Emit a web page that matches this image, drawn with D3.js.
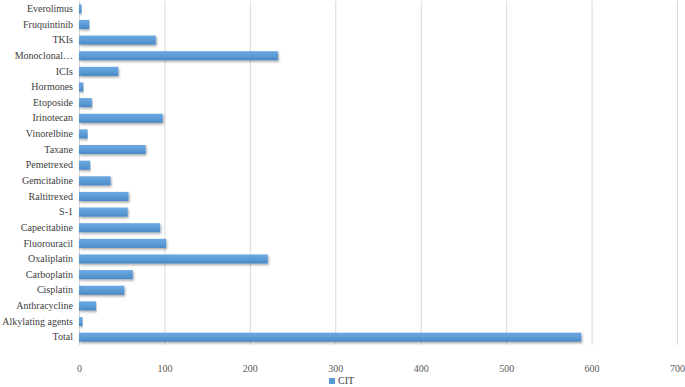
<!DOCTYPE html>
<html>
<head>
<meta charset="utf-8">
<script src="https://d3js.org/d3.v7.min.js"></script>
<style>
  body { margin: 0; background: #fff; }
  svg text { font-family: "Liberation Serif", "Times New Roman", "DejaVu Serif", serif; }
</style>
</head>
<body>
<div id="chart"></div>
<script>
// categories, top to bottom as drawn
var categories = ["Everolimus", "Fruquintinib", "TKIs", "Monoclonal…", "ICIs", "Hormones",
  "Etoposide", "Irinotecan", "Vinorelbine", "Taxane", "Pemetrexed", "Gemcitabine",
  "Raltitrexed", "S-1", "Capecitabine", "Fluorouracil", "Oxaliplatin", "Carboplatin",
  "Cisplatin", "Anthracycline", "Alkylating agents", "Total"];
var citValues = [3, 12, 90, 233, 46, 5, 15, 98, 10, 78, 13, 37, 58, 57, 95, 102, 221, 63, 53, 20, 4, 588];
var xTicks = [0, 100, 200, 300, 400, 500, 600, 700];
var seriesName = "CIT";

var serif = "'Liberation Serif', 'Times New Roman', 'DejaVu Serif', serif";
var fontSize = 10;

var margin = {top: 1, right: 8, bottom: 42, left: 79},
    width = 685 - margin.left - margin.right,
    height = 387 - margin.top - margin.bottom;

var data = categories.map(function(c, i) { return {name: c, value: citValues[i]}; });

var svg = d3.select("#chart")
  .append("svg")
    .attr("width", 685)
    .attr("height", 387);

var defs = svg.append("defs");
var grad = defs.append("linearGradient")
  .attr("id", "barGrad")
  .attr("x1", 0).attr("y1", 0).attr("x2", 0).attr("y2", 1);
grad.append("stop").attr("offset", "0%").attr("stop-color", "#6aa8e2");
grad.append("stop").attr("offset", "55%").attr("stop-color", "#5b9bd5");
grad.append("stop").attr("offset", "100%").attr("stop-color", "#4a88c4");

var shadow = defs.append("filter")
  .attr("id", "shadow")
  .attr("x", "-5%").attr("y", "-40%").attr("width", "110%").attr("height", "200%");
shadow.append("feDropShadow")
  .attr("dx", 1).attr("dy", 1.5)
  .attr("stdDeviation", 0.8)
  .attr("flood-color", "#000")
  .attr("flood-opacity", 0.35);

var g = svg.append("g")
  .attr("transform", "translate(" + margin.left + "," + margin.top + ")");

var x = d3.scaleLinear()
  .domain([0, 700])
  .range([0, width]);

var y = d3.scaleBand()
  .domain(categories)
  .range([0, height])
  .paddingInner(0.42)
  .paddingOuter(0.21);

// vertical gridlines
g.append("g")
  .attr("class", "grid")
  .call(d3.axisBottom(x).tickValues(xTicks).tickSize(height).tickFormat(""))
  .call(function(s) {
    s.select(".domain").remove();
    s.selectAll("line").attr("stroke", "#d9d9d9").attr("stroke-width", 1);
  });

// x axis labels
g.append("g")
  .attr("transform", "translate(0," + height + ")")
  .call(d3.axisBottom(x).tickValues(xTicks).tickSize(0).tickPadding(20))
  .call(function(s) {
    s.attr("font-family", serif).attr("font-size", fontSize);
    s.select(".domain").remove();
    s.selectAll("text").attr("fill", "#595959");
  });

// y axis labels
g.append("g")
  .call(d3.axisLeft(y).tickSize(0).tickPadding(6))
  .call(function(s) {
    s.attr("font-family", serif).attr("font-size", fontSize);
    s.select(".domain").remove();
    s.selectAll("text").attr("fill", "#404040");
  });

// bars
g.selectAll(".bar")
  .data(data)
  .enter()
  .append("rect")
    .attr("class", "bar")
    .attr("x", x(0))
    .attr("y", function(d) { return y(d.name); })
    .attr("width", function(d) { return x(d.value) - x(0); })
    .attr("height", y.bandwidth())
    .attr("fill", "url(#barGrad)")
    .attr("filter", "url(#shadow)");

// legend
var legend = svg.append("g")
  .attr("transform", "translate(329,378)");
legend.append("rect")
  .attr("width", 6).attr("height", 6)
  .attr("fill", "#5b9bd5");
legend.append("text")
  .attr("x", 9).attr("y", 6)
  .attr("font-family", serif)
  .attr("font-size", fontSize)
  .attr("fill", "#404040")
  .text(seriesName);
</script>
</body>
</html>
